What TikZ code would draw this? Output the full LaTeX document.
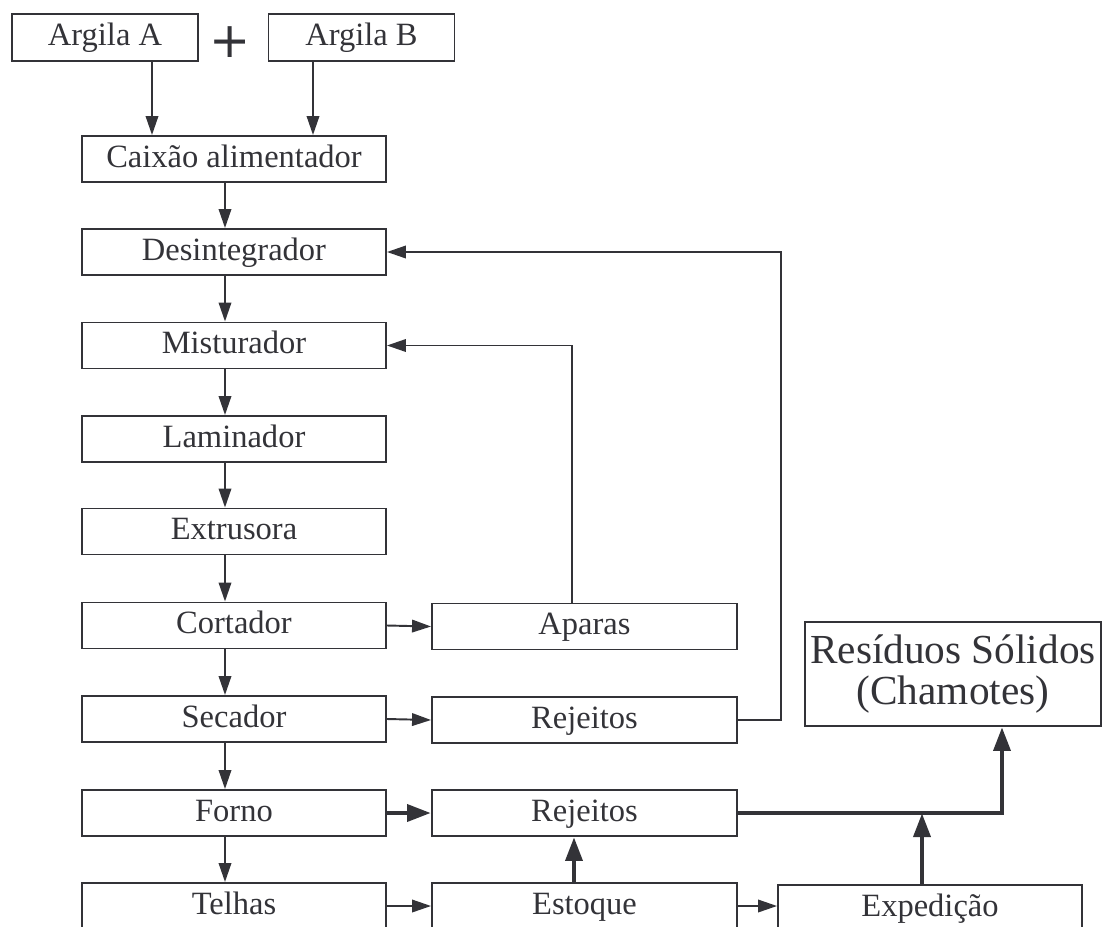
\documentclass[tikz,border=0pt]{standalone}
\usepackage{fontspec}
\setmainfont{Liberation Serif}
\usetikzlibrary{arrows.meta}
\definecolor{ink}{HTML}{333338}
\tikzset{
  box/.style={draw=ink, line width=1.1pt, inner sep=0pt, text=ink,
    minimum width=6.08cm, minimum height=0.92cm,
    font=\fontsize{18.5}{20}\selectfont, text height=13.5pt, text depth=4pt},
  flow/.style={draw=ink, line width=1.1pt, -{Triangle[length=0.38cm,width=0.25cm]}},
  bigflow/.style={draw=ink, line width=2.8pt, -{Triangle[length=0.48cm,width=0.33cm]}},
}
\begin{document}
\begin{tikzpicture}[x=0.02cm, y=-0.02cm]
  \useasboundingbox (0,0) rectangle (1103,927);
  \clip (0,0) rectangle (1103,927);

  % Materias-primas
  \node[box, minimum width=3.72cm, minimum height=0.94cm] (arga) at (105,37.5) {Argila A};
  \node[box, minimum width=3.72cm, minimum height=0.94cm] (argb) at (361.5,37.5) {Argila B};
  \node[text=ink, font=\fontspec{DejaVu Sans}\fontsize{28}{28}\selectfont] (mais) at (230,42) {+};

  % Linha de producao
  \node[box] (caixao) at (234,159) {Caixão alimentador};
  \node[box] (desint) at (234,252) {Desintegrador};
  \node[box] (mist) at (234,345.5) {Misturador};
  \node[box] (lamin) at (234,439) {Laminador};
  \node[box] (extr) at (234,531.5) {Extrusora};
  \node[box] (cort) at (234,625.5) {Cortador};
  \node[box] (sec) at (234,719) {Secador};
  \node[box] (forno) at (234,813) {Forno};
  \node[box] (telhas) at (234,906) {Telhas};

  % Coluna lateral
  \node[box, minimum width=6.1cm] (aparas) at (584.5,626.5) {Aparas};
  \node[box, minimum width=6.1cm] (rej1) at (584.5,720) {Rejeitos};
  \node[box, minimum width=6.1cm] (rej2) at (584.5,813) {Rejeitos};
  \node[box, minimum width=6.1cm] (estoque) at (584.5,906) {Estoque};
  \node[box] (exped) at (930,908) {Expedição};
  \node[box, minimum width=5.92cm, minimum height=2.08cm, text height=, text depth=,
    font=\fontsize{23.5}{23.5}\selectfont, align=center] (residuos) at (953,674)
    {Resíduos Sólidos\\(Chamotes)};

  % Guias verticais
  \coordinate (ina) at (152,0);
  \coordinate (inb) at (313,0);
  \coordinate (spine) at (225,0);
  \coordinate (apx) at (572,0);
  \coordinate (back) at (781,0);
  \coordinate (stx) at (574,0);
  \coordinate (upx) at (922,0);
  \coordinate (outx) at (1002,0);

  % Setas
  \draw[flow] (arga.south -| ina) -- (caixao.north -| ina);
  \draw[flow] (argb.south -| inb) -- (caixao.north -| inb);
  \draw[flow] (caixao.south -| spine) -- (desint.north -| spine);
  \draw[flow] (desint.south -| spine) -- (mist.north -| spine);
  \draw[flow] (mist.south -| spine) -- (lamin.north -| spine);
  \draw[flow] (lamin.south -| spine) -- (extr.north -| spine);
  \draw[flow] (extr.south -| spine) -- (cort.north -| spine);
  \draw[flow] (cort.south -| spine) -- (sec.north -| spine);
  \draw[flow] (sec.south -| spine) -- (forno.north -| spine);
  \draw[flow] (forno.south -| spine) -- (telhas.north -| spine);

  \draw[flow] (cort.east) -- (aparas.west);
  \draw[flow] (sec.east) -- (rej1.west);
  \draw[bigflow] (forno.east) -- (rej2.west);
  \draw[flow] (telhas.east) -- (estoque.west);
  \draw[flow] (estoque.east) -- (exped.west |- estoque.east);

  % Retornos
  \draw[flow] (aparas.north -| apx) |- (mist.east);
  \draw[flow] (rej1.east) -- (rej1.east -| back) |- (desint.east);

  % Residuos
  \draw[bigflow] (estoque.north -| stx) -- (rej2.south -| stx);
  \draw[bigflow] (rej2.east) -| (residuos.south -| outx);
  \draw[bigflow] (exped.north -| upx) -- (rej2.east -| upx);
\end{tikzpicture}
\end{document}
